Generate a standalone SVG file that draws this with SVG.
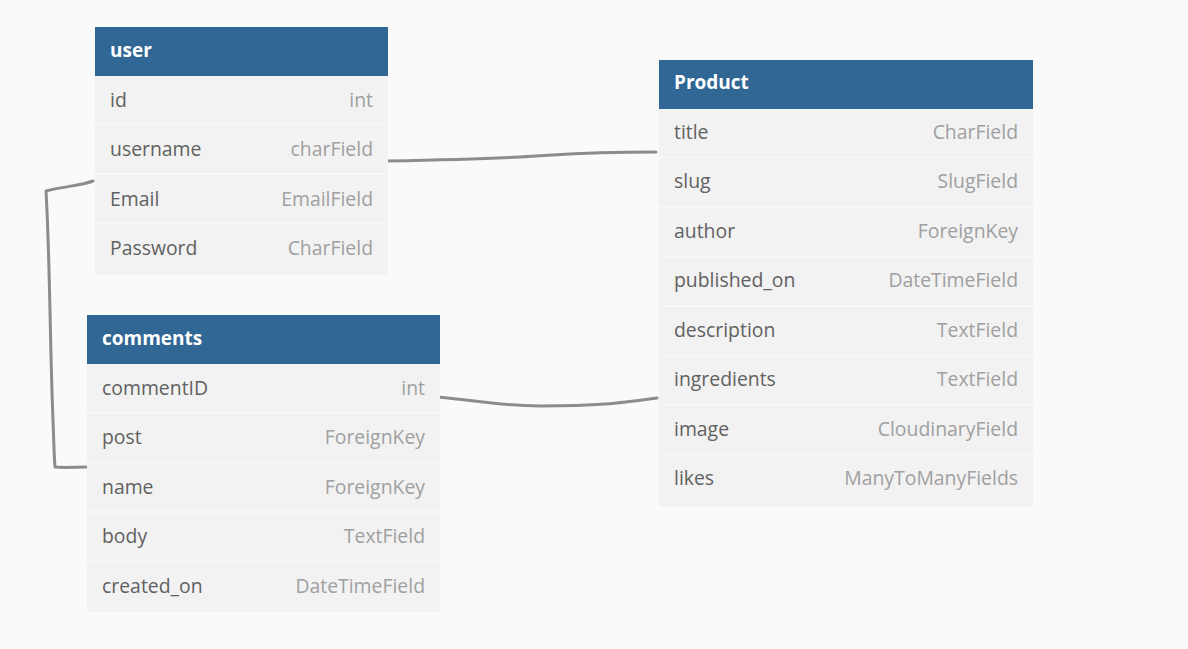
<svg xmlns="http://www.w3.org/2000/svg" width="1188" height="649" viewBox="0 0 1188 649">
<style>
.bg{fill:#fafafa}
.body{fill:#f2f2f2}
.hdr{fill:#316795}
.sep{stroke:#f8f8f8;stroke-width:1.5}
.ht{font-family:"Open Sans","DejaVu Sans",sans-serif;font-weight:bold;font-size:19px;fill:#ffffff}
.fn{font-family:"Open Sans","DejaVu Sans",sans-serif;font-size:19.4px;fill:#616161}
.ft{font-family:"Open Sans","DejaVu Sans",sans-serif;font-size:19.4px;fill:#a0a0a0;text-anchor:end}
.conn{fill:none;stroke:#8c8c8c;stroke-width:3;stroke-linecap:round;stroke-linejoin:round}
</style>
<rect class="bg" x="0" y="0" width="1188" height="649"/>
<g id="connectors">
<path class="conn" d="M388,161 C440,160 480,159 520,157 S580,152 656,152"/>
<path class="conn" d="M438,397 C480,401 500,406 540,406 C600,406 620,403 657,398"/>
<path class="conn" d="M93,181 C80,186 65,186 46,191 C50,260 50,350 53,420 C54,445 54,455 55,467 C65,468 75,467 87,467"/>
</g>
<g id="user">
<rect class="body" x="95" y="27" width="293" height="247"/>
<rect class="hdr" x="95" y="27" width="293" height="49"/>
<line class="sep" x1="95" y1="124.5" x2="388" y2="124.5"/>
<line class="sep" x1="95" y1="174" x2="388" y2="174"/>
<line class="sep" x1="95" y1="223.5" x2="388" y2="223.5"/>
<text class="ht" x="110" y="57">user</text>
<text class="fn" x="110" y="106.5">id</text><text class="ft" x="373" y="106.5">int</text>
<text class="fn" x="110" y="156">username</text><text class="ft" x="373" y="156">charField</text>
<text class="fn" x="110" y="205.5">Email</text><text class="ft" x="373" y="205.5">EmailField</text>
<text class="fn" x="110" y="255">Password</text><text class="ft" x="373" y="255">CharField</text>
</g>
<g id="comments">
<rect class="body" x="87" y="315" width="353" height="297"/>
<rect class="hdr" x="87" y="315" width="353" height="49"/>
<line class="sep" x1="87" y1="413" x2="440" y2="413"/>
<line class="sep" x1="87" y1="462.5" x2="440" y2="462.5"/>
<line class="sep" x1="87" y1="512" x2="440" y2="512"/>
<line class="sep" x1="87" y1="561.5" x2="440" y2="561.5"/>
<text class="ht" x="102" y="345">comments</text>
<text class="fn" x="102" y="394.5">commentID</text><text class="ft" x="425" y="394.5">int</text>
<text class="fn" x="102" y="444">post</text><text class="ft" x="425" y="444">ForeignKey</text>
<text class="fn" x="102" y="493.5">name</text><text class="ft" x="425" y="493.5">ForeignKey</text>
<text class="fn" x="102" y="543">body</text><text class="ft" x="425" y="543">TextField</text>
<text class="fn" x="102" y="592.5">created_on</text><text class="ft" x="425" y="592.5">DateTimeField</text>
</g>
<g id="product">
<rect class="body" x="659" y="60" width="374" height="446"/>
<rect class="hdr" x="659" y="60" width="374" height="49"/>
<line class="sep" x1="659" y1="157.5" x2="1033" y2="157.5"/>
<line class="sep" x1="659" y1="207" x2="1033" y2="207"/>
<line class="sep" x1="659" y1="256.5" x2="1033" y2="256.5"/>
<line class="sep" x1="659" y1="306" x2="1033" y2="306"/>
<line class="sep" x1="659" y1="355.5" x2="1033" y2="355.5"/>
<line class="sep" x1="659" y1="405" x2="1033" y2="405"/>
<line class="sep" x1="659" y1="454.5" x2="1033" y2="454.5"/>
<text class="ht" x="674" y="89">Product</text>
<text class="fn" x="674" y="138.5">title</text><text class="ft" x="1018" y="138.5">CharField</text>
<text class="fn" x="674" y="188">slug</text><text class="ft" x="1018" y="188">SlugField</text>
<text class="fn" x="674" y="237.5">author</text><text class="ft" x="1018" y="237.5">ForeignKey</text>
<text class="fn" x="674" y="287">published_on</text><text class="ft" x="1018" y="287">DateTimeField</text>
<text class="fn" x="674" y="336.5">description</text><text class="ft" x="1018" y="336.5">TextField</text>
<text class="fn" x="674" y="386">ingredients</text><text class="ft" x="1018" y="386">TextField</text>
<text class="fn" x="674" y="435.5">image</text><text class="ft" x="1018" y="435.5">CloudinaryField</text>
<text class="fn" x="674" y="485">likes</text><text class="ft" x="1018" y="485">ManyToManyFields</text>
</g>
</svg>
